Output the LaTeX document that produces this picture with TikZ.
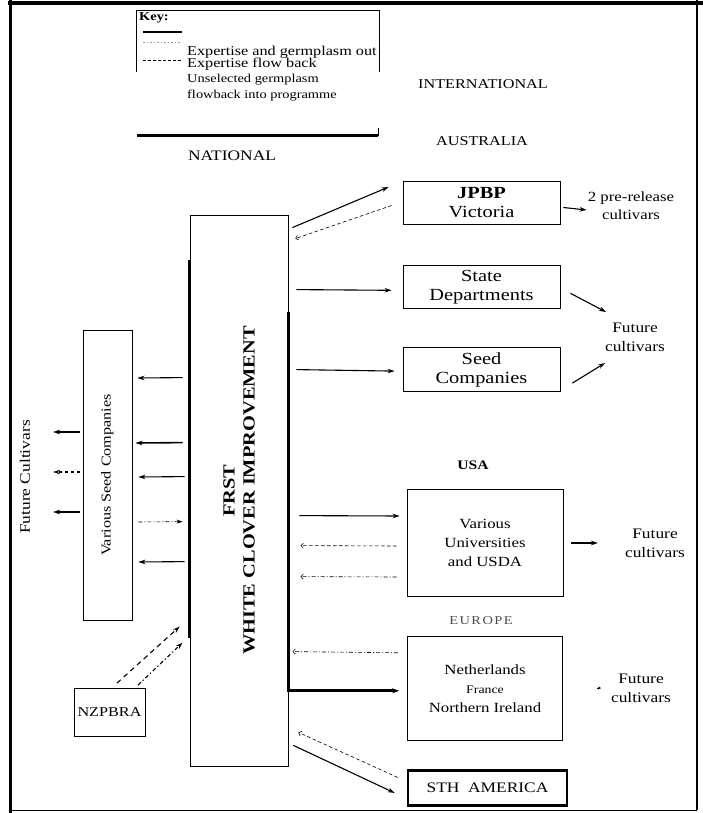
\documentclass[tikz,border=0pt]{standalone}
\usepackage{fontspec}
\setmainfont{Liberation Serif}[FakeStretch=1.2]
\usetikzlibrary{arrows.meta, positioning}

\newcommand{\pxfont}[2]{\fontsize{#1pt}{#2pt}\selectfont}

\begin{document}
\begin{tikzpicture}[x=1pt, y=-1pt,
    every node/.style={align=center, inner sep=0pt, font=\pxfont{13.5}{19}},
    region/.style={draw, rectangle, line width=0.8pt},
    outflow/.style={line width=1.1pt, -{Stealth[length=7pt, width=4.5pt]}},
    backflow/.style={line width=0.6pt, dash pattern=on 3.5pt off 2.5pt, -{Straight Barb[length=2.5pt, width=5pt]}},
    unselflow/.style={line width=0.6pt, dash pattern=on 4pt off 2pt on 1pt off 2pt, -{Straight Barb[length=2.5pt, width=5pt]}}]
  \useasboundingbox (0,0) rectangle (703,813);

  % frame
  \draw[line width=3pt] (10,0) -- (10,813);
  \draw[line width=4pt] (8,3) -- (703,3);
  \draw[line width=1.5pt] (697,0) -- (697,810);
  \draw[line width=1pt] (10,810) -- (697,810);

  % key
  \draw[line width=0.8pt] (136,72) -- (136,10) -- (379,10) -- (379,72);
  \node[anchor=north west, font=\bfseries\pxfont{12}{13}] (key) at (139,12) {Key:};
  \draw[line width=2.5pt] (143,32) -- (182,32);
  \draw[line width=0.8pt, black!40, dash pattern=on 2pt off 2pt on 1pt off 2pt] (143,42) -- (182,42);
  \draw[line width=0.8pt, dash pattern=on 3pt off 2pt] (143,60) -- (182,60);
  \node[anchor=west, font=\pxfont{13.5}{11}] (kout) at (187,52) {Expertise and germplasm out};
  \node[anchor=west, font=\pxfont{13.5}{11}] (kback) at (187,64) {Expertise flow back};
  \node[anchor=west, align=left, font=\pxfont{12}{16}] (kunsel) at (187,88) {Unselected germplasm\\flowback into programme};
  \draw[line width=3pt] (137,136) -- (378,136);
  \draw[line width=1pt] (378,128) -- (378,136);

  % headings
  \node (intl) at (483,84) {INTERNATIONAL};
  \node (aus) at (482,141) {AUSTRALIA};
  \node[font=\pxfont{14.5}{17}] (natl) at (232,156) {NATIONAL};
  \node[font=\bfseries\pxfont{13}{15}] (usa) at (473,465) {USA};
  \node[text=black!70, font={\pxfont{12}{14}\addfontfeatures{LetterSpace=12}}] (europe) at (481,621) {EUROPE};

  % national side
  \node[region, minimum width=98pt, minimum height=551pt] (frst) at (239,490.5) {};
  \node[rotate=90, font=\bfseries\pxfont{17}{20}] (frsttxt) at (frst.center) {FRST\\WHITE CLOVER IMPROVEMENT};
  \node[region, minimum width=49pt, minimum height=290pt] (vsc) at (107.5,475) {};
  \node[rotate=90] (vsctxt) at (vsc.center) {Various Seed Companies};
  \node[rotate=90, font=\pxfont{14.5}{17}] (futl) at (25,477) {Future Cultivars};
  \node[region, minimum width=71pt, minimum height=48pt] (nzpbra) at (109.5,712.5) {NZPBRA};

  % international side
  \node[region, minimum width=157pt, minimum height=43pt, font=\pxfont{17}{19}] (jpbp) at (481.5,202.5) {\textbf{JPBP}\\Victoria};
  \node[region, minimum width=157pt, minimum height=43pt, font=\pxfont{17}{19}, below=41pt of jpbp] (state) {State\\Departments};
  \node[region, minimum width=157pt, minimum height=44pt, font=\pxfont{17}{19}, below=38pt of state] (seedco) {Seed\\Companies};
  \node[region, minimum width=156pt, minimum height=107pt, font=\pxfont{14}{19}] (univ) at (485,542.5) {Various\\Universities\\and USDA};
  \node[region, minimum width=155pt, minimum height=104pt, font=\pxfont{14}{19}, below=40pt of univ] (neth) {Netherlands\\{\pxfont{11.5}{19}France}\\Northern Ireland};
  \node[region, line width=2.5pt, minimum width=159pt, minimum height=35pt, font=\pxfont{14.5}{17}, below=28pt of neth, xshift=2.5pt] (stham) {STH\ \ AMERICA};

  \node[font=\pxfont{14}{18}] (prerel) at (631,206) {2 pre-release\\cultivars};
  \node[font=\pxfont{14.5}{19}] (fut1) at (635,337) {Future\\cultivars};
  \node[font=\pxfont{14.5}{19}] (fut2) at (655,543) {Future\\cultivars};
  \node[font=\pxfont{14.5}{19}] (fut3) at (641,688) {Future\\cultivars};

  % thick edges of the programme box
  \draw[line width=3pt] ([shift={(0,45)}]frst.north west) -- ([shift={(0,423)}]frst.north west);
  \draw[line width=3pt, -{Stealth[length=7pt, width=5pt]}] ([shift={(0,97)}]frst.north east) |- ([shift={(-8,2)}]neth.west);

  % australia
  \draw[outflow] ([shift={(4,13)}]frst.north east) -- ([shift={(-14,-15.5)}]jpbp.west);
  \draw[backflow] ([shift={(-11,3)}]jpbp.west) -- ([shift={(7,24)}]frst.north east);
  \draw[outflow] ([shift={(3,5)}]jpbp.east) -- ([shift={(-1,4)}]prerel.west);
  \draw[outflow] ([shift={(8,75)}]frst.north east) -- ([shift={(-11,3)}]state.west);
  \draw[outflow] ([shift={(8,155)}]frst.north east) -- ([shift={(-8,1.5)}]seedco.west);
  \draw[outflow] ([shift={(10,6)}]state.east) -- ([shift={(-29,-25)}]fut1.center);
  \draw[outflow] ([shift={(12,13.5)}]seedco.east) -- ([shift={(-30,26)}]fut1.center);

  % usa
  \draw[outflow] ([shift={(11,301)}]frst.north east) -- ([shift={(-7,-26.5)}]univ.west);
  \draw[backflow] ([shift={(-10,3.5)}]univ.west) -- ([shift={(12,331)}]frst.north east);
  \draw[unselflow] ([shift={(-10,34.5)}]univ.west) -- ([shift={(12,362)}]frst.north east);
  \draw[outflow] ([shift={(8,0.5)}]univ.east) -- ([shift={(-57,0)}]fut2.center);

  % europe
  \draw[unselflow] ([shift={(-9,-36)}]neth.west) -- ([shift={(4,437)}]frst.north east);
  \draw[-{Stealth[length=3pt, width=3pt]}] ([shift={(-44,0)}]fut3.center) -- ([shift={(-40,0)}]fut3.center);

  % south america
  \draw[backflow] ([shift={(-9,-10.5)}]stham.west) -- ([shift={(10,-34)}]frst.south east);
  \draw[outflow] ([shift={(5,-21)}]frst.south east) -- ([shift={(-12,5)}]stham.west);

  % national seed companies
  \draw[outflow] ([shift={(-7,163)}]frst.north west) -- ([shift={(5,-97)}]vsc.east);
  \draw[outflow, line width=1.6pt] ([shift={(-7,228)}]frst.north west) -- ([shift={(3,-32)}]vsc.east);
  \draw[outflow] ([shift={(-5,262)}]frst.north west) -- ([shift={(6,2)}]vsc.east);
  \draw[unselflow, -{Stealth[length=6pt, width=4pt]}] ([shift={(6,47)}]vsc.east) -- ([shift={(-7,307)}]frst.north west);
  \draw[outflow] ([shift={(-5,347)}]frst.north west) -- ([shift={(6,87)}]vsc.east);
  \draw[outflow] ([shift={(-3,-43)}]vsc.west) -- ([shift={(28,-45)}]futl.center);
  \draw[outflow, dash pattern=on 3pt off 3pt] ([shift={(-3,-3)}]vsc.west) -- ([shift={(28,-5)}]futl.center);
  \draw[outflow] ([shift={(-3,37)}]vsc.west) -- ([shift={(28,35)}]futl.center);

  % nzpbra
  \draw[outflow, dash pattern=on 5pt off 4pt] ([shift={(7.5,-5)}]nzpbra.north) -- ([shift={(-10,412)}]frst.north west);
  \draw[outflow, dash pattern=on 4pt off 2.5pt on 1.2pt off 2.5pt] ([shift={(28.5,-3)}]nzpbra.north) -- ([shift={(-7,428)}]frst.north west);
\end{tikzpicture}
\end{document}
